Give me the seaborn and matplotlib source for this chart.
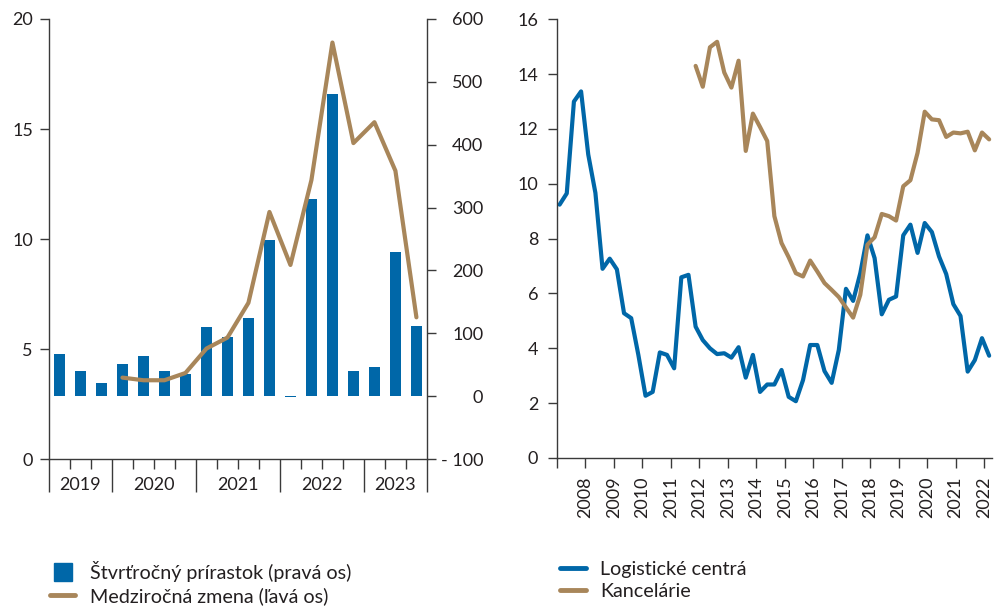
import numpy as np
import matplotlib
matplotlib.use("Agg")
import matplotlib.pyplot as plt
import matplotlib.transforms as mtransforms
from matplotlib.lines import Line2D
import seaborn as sns

# ---- left panel: quarterly data 2019Q2 - 2023Q3 ----
years_left = ["2019", "2020", "2021", "2022", "2023"]
quarters_per_year = [3, 4, 4, 4, 3]
# quarterly increment (right axis)
bars_q = [67.6, 40.4, 20.2, 50.5, 64.4, 39.9, 35.6, 110.6, 94.1, 125.0,
          248.4, -2.0, 313.7, 480.0, 39.9, 46.3, 228.7, 111.2]
# year-on-year change (left axis)
yoy = [np.nan, np.nan, np.nan, 3.70, 3.58, 3.58, 3.91, 5.02, 5.52, 7.10,
       11.23, 8.82, 12.68, 18.93, 14.36, 15.31, 13.10, 6.44]

# ---- right panel: quarterly data ----
year_labels_right = ["", "2008", "2009", "2010", "2011", "2012", "2013", "2014",
                     "2015", "2016", "2017", "2018", "2019", "2020", "2021", "2022"]
logistics = [9.24, 9.65, 13.0, 13.37, 11.07, 9.67, 6.90, 7.27, 6.88, 5.28,
             5.10, 3.76, 2.27, 2.41, 3.85, 3.76, 3.27, 6.59, 6.68, 4.79,
             4.30, 4.00, 3.79, 3.82, 3.66, 4.04, 2.93, 3.76, 2.41, 2.68,
             2.68, 3.21, 2.23, 2.07, 2.84, 4.12, 4.12, 3.17, 2.74, 3.94,
             6.17, 5.73, 6.74, 8.12, 7.29, 5.24, 5.77, 5.89, 8.12, 8.51,
             7.48, 8.57, 8.24, 7.35, 6.71, 5.61, 5.18, 3.15, 3.57, 4.37,
             3.73]
offices_start = 19
offices = [14.30, 13.54, 14.98, 15.18, 14.06, 13.51, 14.49, 11.20, 12.56, 12.07,
           11.56, 8.82, 7.84, 7.32, 6.74, 6.62, 7.20, 6.80, 6.38, 6.13,
           5.87, 5.49, 5.12, 5.95, 7.78, 8.05, 8.90, 8.82, 8.66, 9.91,
           10.13, 11.13, 12.63, 12.35, 12.32, 11.71, 11.87, 11.84, 11.90, 11.22,
           11.87, 11.62]

BLUE = "#0067a8"
BROWN = "#a8865a"
DARK = "#231f20"
AXC = "#3a3a3a"

sns.set_style("white")
plt.rcParams["font.family"] = ["Lato", "DejaVu Sans"]
plt.rcParams["font.size"] = 13
plt.rcParams["text.color"] = DARK
plt.rcParams["xtick.color"] = AXC
plt.rcParams["ytick.color"] = AXC
plt.rcParams["xtick.labelcolor"] = DARK
plt.rcParams["ytick.labelcolor"] = DARK

fig = plt.figure(figsize=(9.97, 6.07), dpi=100)

# ================= left panel =================
ax = fig.add_axes([0.0491, 0.2438, 0.3791, 0.7249])
xq = np.arange(len(bars_q))
sns.barplot(x=xq, y=bars_q, color=BLUE, width=0.5, native_scale=True,
            saturation=1, edgecolor="none", ax=ax)
ax.set_xlabel("")
ax.set_ylabel("")

ax2 = ax.twinx()
sns.lineplot(x=xq, y=yoy, color=BROWN, linewidth=3, ax=ax2)
ax2.set_ylabel("")

# bars' axis on the right, line's axis on the left
ax.set_ylim(-100, 600)
ax.set_xlim(-0.5, len(bars_q) - 0.5)
ax.yaxis.tick_right()
ax.set_yticks([-100, 0, 100, 200, 300, 400, 500, 600])
ax.set_yticklabels(["- 100", "0", "100", "200", "300", "400", "500", "600"])
ax.tick_params(axis="y", which="major", length=6.5, width=1, pad=34,
               labelsize=13, right=True, left=False,
               labelright=True, labelleft=False)
for t in ax.yaxis.get_major_ticks():
    t.label2.set_horizontalalignment("right")

ax2.set_ylim(0, 20)
ax2.yaxis.tick_left()
ax2.set_yticks([0, 5, 10, 15, 20])
ax2.tick_params(axis="y", length=6.5, width=1, pad=5, labelsize=13,
                left=True, right=False, labelleft=True, labelright=False)

# year separators (long ticks) and quarter ticks (short)
edges = np.concatenate([[0], np.cumsum(quarters_per_year)]) - 0.5
ax.set_xticks(edges)
ax.set_xticks([e for e in np.arange(-0.5, len(bars_q), 1.0) if e not in edges], minor=True)
ax.tick_params(axis="x", which="major", length=24, width=1, labelbottom=False, bottom=True)
ax.tick_params(axis="x", which="minor", length=7, width=1, bottom=True)
trans = mtransforms.blended_transform_factory(ax.transData, ax.transAxes)
for i, yr in enumerate(years_left):
    ax.text((edges[i] + edges[i + 1]) / 2, -0.06, yr, transform=trans,
            ha="center", va="center", fontsize=13)

for a in (ax, ax2):
    for s in a.spines.values():
        s.set_visible(False)
        s.set_color(AXC)
        s.set_linewidth(1)
ax.spines["right"].set_visible(True)
ax.spines["bottom"].set_visible(True)
ax2.spines["left"].set_visible(True)

# ================= right panel =================
bx = fig.add_axes([0.5587, 0.2455, 0.4363, 0.7227])
xr = np.arange(len(logistics))
xo = np.arange(offices_start, offices_start + len(offices))
sns.lineplot(x=xr, y=logistics, color=BLUE, linewidth=3, ax=bx)
sns.lineplot(x=xo, y=offices, color=BROWN, linewidth=3, ax=bx)
bx.set_ylim(0, 16)
bx.set_yticks(range(0, 17, 2))
bx.set_xlim(-0.36, 60.4)
bx.set_xticks(np.arange(len(year_labels_right)) * 3.977 - 0.36)
bx.set_xticklabels(year_labels_right, rotation=90)
bx.tick_params(axis="x", length=7, width=1, pad=6, labelsize=13, bottom=True)
bx.tick_params(axis="y", length=6.5, width=1, pad=7, labelsize=13, left=True)
for s in bx.spines.values():
    s.set_visible(False)
    s.set_color(AXC)
    s.set_linewidth(1)
bx.spines["left"].set_visible(True)
bx.spines["bottom"].set_visible(True)

# ================= legends =================
h_left = [Line2D([], [], marker="s", linestyle="none", markersize=13, color=BLUE),
          Line2D([], [], color=BROWN, linewidth=3.5)]
fig.legend(h_left, ["Štvrťročný prírastok (pravá os)", "Medziročná zmena (ľavá os)"],
           loc="upper left", bbox_to_anchor=(0.050, 0.076), frameon=False,
           borderpad=0, borderaxespad=0, handlelength=1.3, handletextpad=0.75,
           labelspacing=0.28, fontsize=14.2)
h_right = [Line2D([], [], color=BLUE, linewidth=3.5),
           Line2D([], [], color=BROWN, linewidth=3.5)]
fig.legend(h_right, ["Logistické centrá", "Kancelárie"],
           loc="upper left", bbox_to_anchor=(0.5617, 0.076), frameon=False,
           borderpad=0, borderaxespad=0, handlelength=1.3, handletextpad=0.75,
           labelspacing=0.28, fontsize=14.2)

fig.savefig("out.png", dpi=100)
